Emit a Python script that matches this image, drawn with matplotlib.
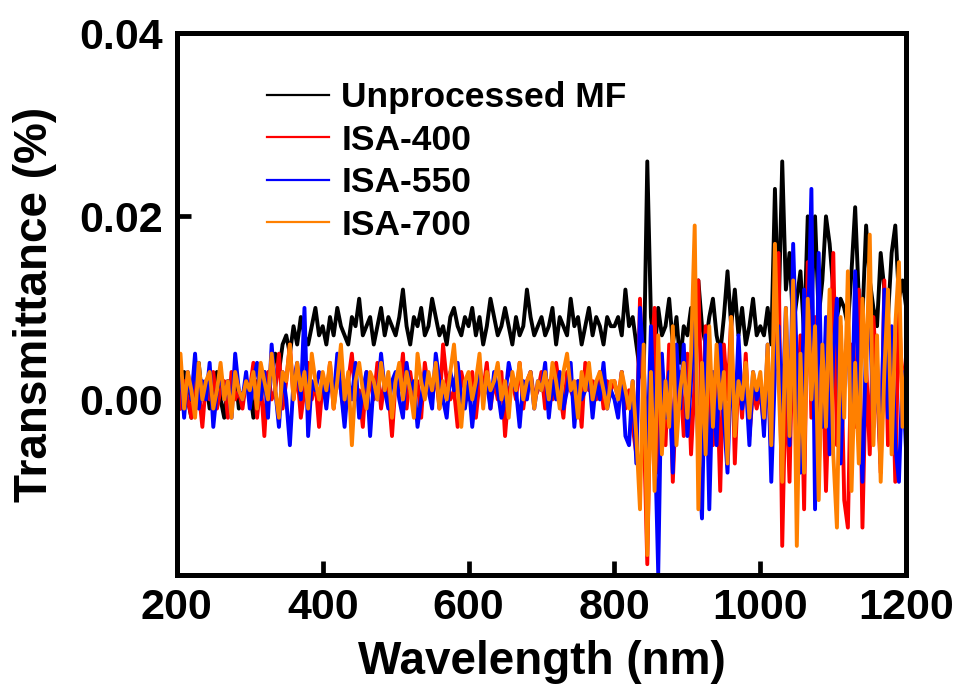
import numpy as np
import matplotlib
matplotlib.use('Agg')
import matplotlib.pyplot as plt

# wavelength grid (nm), 5 nm steps
wavelength = np.arange(200, 1205, 5)

# transmittance, in units of 0.001 %
unprocessed = [
    2, -1, 3, 0, -2, 1, 4, 0, 2, -1, 1, 3, 0, -2, 2, 1, 3, -1, 0, 2,
    1, -2, 2, 0, 3, 1, 4, 5, 3, 6, 7, 5, 8, 6, 9, 7, 6, 8, 10, 7,
    8, 6, 9, 7, 10, 8, 7, 6, 9, 8, 11, 7, 8, 9, 6, 8, 10, 7, 9, 8,
    7, 9, 12, 8, 6, 9, 8, 10, 7, 8, 11, 9, 7, 8, 6, 9, 10, 8, 7, 9,
    8, 10, 7, 9, 6, 8, 11, 9, 7, 8, 10, 8, 6, 9, 7, 8, 12, 9, 7, 8,
    9, 7, 8, 10, 6, 9, 8, 7, 11, 8, 9, 6, 8, 10, 7, 9, 8, 6, 9, 8,
    8, 9, 7, 12, 8, 9, 6, 3, 2, 26, 9, 5, 10, 7, 8, 11, 6, 9, 4, 8,
    7, 10, 5, 13, 8, 6, 9, 11, 7, 5, 9, 14, 8, 12, 7, 10, 6, 8, 11, 7,
    8, 7, 10, 6, 23, 9, 26, 12, 16, 8, 11, 14, 7, 20, 10, 20, 9, 13, 20, 17,
    12, 9, 11, 10, 8, 14, 21, 11, 9, 19, 13, 10, 8, 16, 12, 9, 16, 19, 11, 13,
    10,
]
isa400 = [
    3, -1, 2, 0, -2, 4, 1, -3, 2, 0, 3, -1, 1, 2, -2, 3, 0, 1, -1, 2,
    1, 4, -2, 2, -4, 3, 0, 1, 5, -1, 2, 6, 0, 3, -2, 1, 4, 0, 2, -3,
    2, 0, 4, -1, 3, 1, -2, 2, 5, 0, 1, -3, 3, 2, 0, 4, -1, 2, 1, -4,
    2, 1, 5, -1, 3, 0, 2, -2, 4, 1, 0, 3, -1, 6, 2, 0, 1, -3, 3, 1,
    0, 3, -2, 2, 1, 4, -1, 2, 0, 3, -4, 1, 2, 0, 4, -1, 2, 3, 0, 1,
    3, -1, 2, 0, 4, 1, -2, 3, 1, 0, 2, -3, 4, 1, 2, 0, 3, -1, 2, 1,
    2, 0, 3, -1, 1, -3, -6, 11, -2, -18, 4, 10, -8, 2, -5, 6, -9, 1, 3, -4,
    5, -6, 2, 13, -3, 8, -1, -5, 4, -10, 6, 0, 9, -7, 3, -2, 5, -4, 1, -1,
    1, -3, 4, -6, 8, 16, -16, 3, -9, 10, -4, 7, -12, 15, -2, 9, -8, 5, -10, 3,
    16, -5, 8, -11, -14, 6, -3, 12, -14, 4, -6, 9, 2, -8, 13, -5, 7, -9, 10, 0,
    5,
]
isa550 = [
    1, 4, -2, 3, 0, 5, -1, 2, 0, 4, -3, 1, 3, 0, 2, -2, 5, 1, 0, 3,
    -1, 2, 4, 0, 3, -2, 6, 1, -3, 3, 0, -5, 2, 4, 0, 10, -4, 2, 1, 3,
    2, -1, 3, 0, 5, 1, -3, 2, 0, 4, -2, 1, 3, -4, 2, 0, 5, 1, -1, 2,
    3, 0, -2, 4, 1, 2, -3, 0, 3, 1, -1, 5, 2, 0, -2, 3, 1, 4, 0, -1,
    2, -3, 1, 4, 0, 2, -1, 3, 1, -2, 0, 4, 2, 1, -3, 2, 0, 3, -1, 2,
    1, 4, -2, 2, 0, 3, -1, 1, 4, -3, 2, 0, 1, 3, -2, 2, 0, 4, -1, 1,
    0, -2, 3, -4, -5, 2, -7, 10, 4, -6, 8, -3, -19, 5, -2, 3, -8, 6, -1, 6,
    -4, 2, 9, -6, -13, 7, -12, 3, -5, 6, -2, -8, 4, -3, 7, -1, 2, -5, 3, 0,
    2, -4, 6, -9, 3, 8, -2, 10, -5, 17, 4, -8, 12, 6, 23, -12, 16, -3, 9, -6,
    5, 11, -7, 3, 8, -4, 14, 2, -9, 6, 10, -3, 4, -7, 12, -2, 8, -5, -9, 3,
    -6,
]
isa700 = [
    2, 5, -1, 3, 1, -2, 4, 0, 2, 3, -1, 1, 4, 0, 2, -2, 3, 1, 0, 2,
    1, 3, -1, 4, 2, 0, 5, 1, -2, 3, 2, 6, 0, 4, 1, 3, -1, 5, 2, 0,
    3, 1, 4, -1, 2, 6, 0, 3, -5, 2, 4, 1, -1, 3, 2, 0, 4, 1, 3, -2,
    2, 4, 0, 3, 1, -2, 5, 2, 0, 3, 1, 4, -1, 2, 0, 3, 6, 1, -3, 2,
    3, 0, 2, 5, -1, 3, 1, 2, 4, 0, 2, -2, 3, 1, 4, 0, 2, 3, -1, 2,
    1, 3, 0, 4, 2, -1, 3, 5, 1, 2, -2, 3, 1, 4, 0, 2, 3, 1, -1, 2,
    2, 0, 3, 1, -1, 2, -4, -12, 6, -17, 3, -10, 7, -6, 2, -3, 8, -5, 1, 4,
    -2, 5, 19, -12, 4, -6, 8, -3, 6, -1, 3, -7, 9, -4, 2, 0, 4, -2, 3, 1,
    3, -2, 6, -5, 17, 2, -9, 10, -4, 13, -16, 5, -8, 11, 0, 8, -11, 6, -3, 12,
    -6, -14, 9, -2, 14, -10, 4, -7, 11, 2, 18, -5, 7, -9, 3, 12, -6, 8, 15, -3,
    4,
]

series = [
    ('Unprocessed MF', unprocessed, 'black'),
    ('ISA-400', isa400, '#ff0000'),
    ('ISA-550', isa550, '#0000ff'),
    ('ISA-700', isa700, '#ff8000'),
]

plt.rcParams['font.family'] = ['Liberation Sans', 'DejaVu Sans']
plt.rcParams['font.weight'] = 'bold'

fig = plt.figure(figsize=(9.61, 6.93), dpi=100)
ax = fig.add_axes([0.184, 0.170, 0.759, 0.782])

for name, vals, col in series:
    ax.plot(wavelength, np.array(vals) / 1000.0, color=col, lw=2.8, label=name)

ax.set_xlim(200, 1200)
ax.set_ylim(-0.0192, 0.04)
ax.set_xticks([200, 400, 600, 800, 1000, 1200])
ax.set_yticks([0.0, 0.02, 0.04])
ax.set_yticklabels(['0.00', '0.02', '0.04'])

for s in ax.spines.values():
    s.set_linewidth(3.6)
ax.tick_params(direction='in', length=10, width=3.4, labelsize=31, pad=9)
ax.tick_params(axis='y', pad=10)

ax.set_xlabel('Wavelength (nm)', fontsize=33, fontweight='bold', labelpad=9)
ax.set_ylabel('Transmittance (%)', fontsize=33, fontweight='bold', labelpad=16)

leg = ax.legend(loc='upper left', bbox_to_anchor=(0.1235, 0.912), frameon=False,
                fontsize=25.5, handlelength=1.75, handletextpad=0.35,
                labelspacing=0.27, borderpad=0, borderaxespad=0)
for t in leg.get_texts():
    t.set_fontweight('bold')
for h in leg.get_lines():
    h.set_linewidth(1.6)

fig.savefig('out.png', dpi=100)
